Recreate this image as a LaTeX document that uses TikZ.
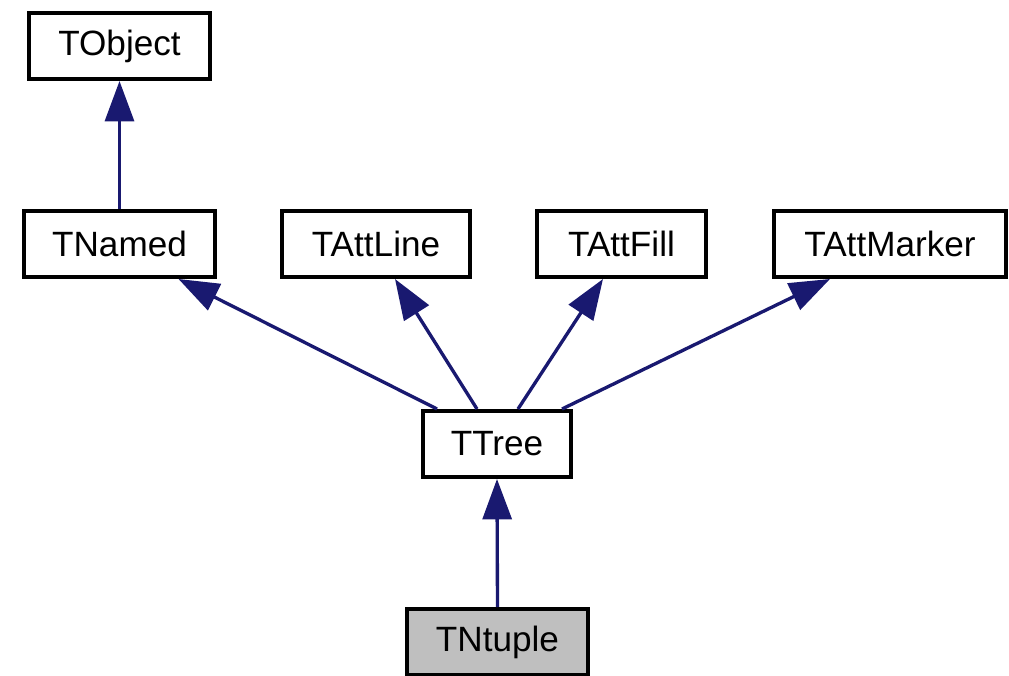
\documentclass[tikz,border=0pt]{standalone}
\usepackage{fontspec}
\setmainfont{Liberation Sans}
\usetikzlibrary{arrows.meta}
\definecolor{edgeblue}{RGB}{25,25,112}
\definecolor{boxgray}{RGB}{191,191,191}
\begin{document}
\begin{tikzpicture}[x=0.02cm,y=-0.02cm,
  cls/.style={draw=black,line width=2pt,inner sep=0pt,minimum height=1.33cm,
    font=\fontsize{20}{24}\selectfont},
  inh/.style={draw=edgeblue,line width=1.9pt,
    -{Triangle[width=16.5pt,length=23pt,fill=edgeblue]}}]
\useasboundingbox (0,0) rectangle (1009,676);
\node[cls,minimum width=3.63cm] (tobject) at (119.5,46) {TObject};
\node[cls,minimum width=3.83cm] (tnamed) at (119.5,244) {TNamed};
\node[cls,minimum width=3.77cm] (tattline) at (376,244) {TAttLine};
\node[cls,minimum width=3.39cm] (tattfill) at (621.5,244) {TAttFill};
\node[cls,minimum width=4.65cm] (tattmarker) at (890,244) {TAttMarker};
\node[cls,minimum width=2.97cm] (ttree) at (497,444) {TTree};
\node[cls,fill=boxgray,minimum width=3.63cm] (tntuple) at (497.5,642) {TNtuple};
\draw[inh] (tnamed.north) -- (tobject.south);
\draw[inh] ([xshift=-1.2cm]ttree.north) -- ([xshift=1.18cm]tnamed.south);
\draw[inh] ([xshift=-0.4cm]ttree.north) -- ([xshift=0.38cm]tattline.south);
\draw[inh] ([xshift=0.42cm]ttree.north) -- ([xshift=-0.37cm]tattfill.south);
\draw[inh] ([xshift=1.3cm]ttree.north) -- ([xshift=-1.2cm]tattmarker.south);
\draw[inh] (tntuple.north) -- (ttree.south);
\end{tikzpicture}
\end{document}
